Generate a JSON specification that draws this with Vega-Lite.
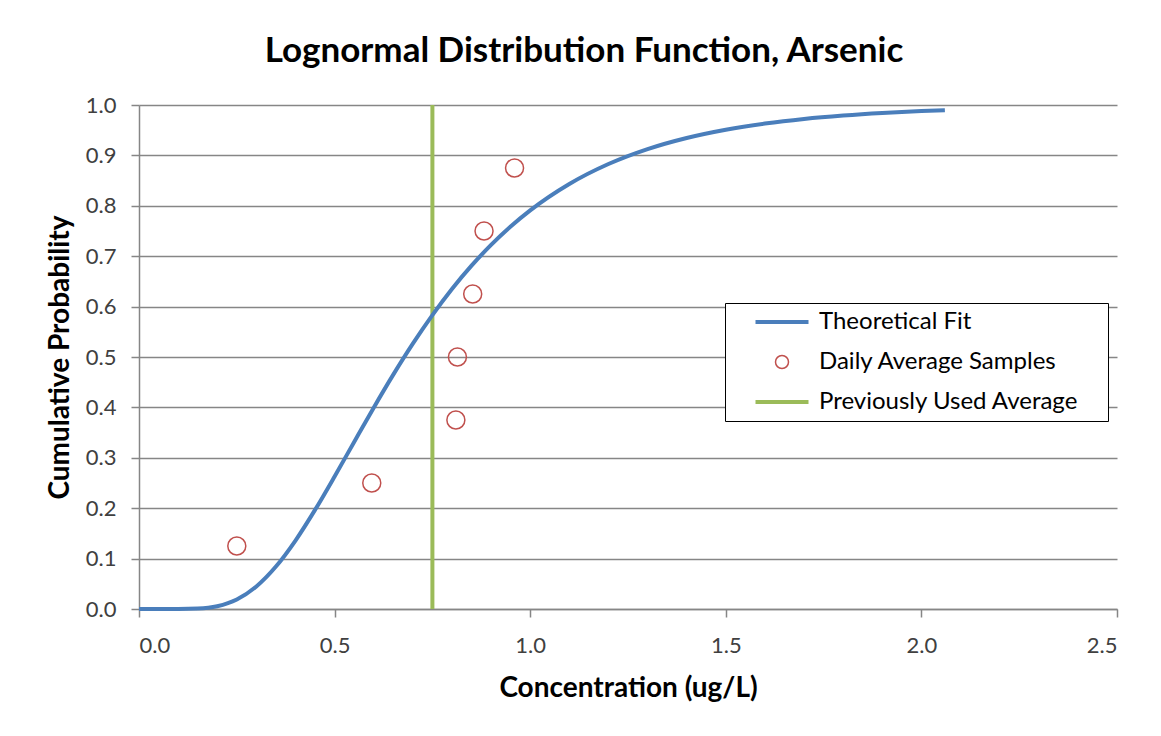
{
  "$schema": "https://vega.github.io/schema/vega-lite/v6.json",
  "width": 978,
  "height": 504,
  "autosize": "none",
  "padding": {"left": 139, "top": 105, "right": 44, "bottom": 127},
  "background": "white",
  "title": {
    "text": "Lognormal Distribution Function, Arsenic",
    "font": "Lato",
    "fontSize": 35,
    "fontWeight": "bold",
    "color": "#000000",
    "anchor": "middle",
    "dx": -44,
    "offset": 25
  },
  "config": {
    "view": {"stroke": null},
    "axis": {
      "labelFont": "Lato",
      "labelFontSize": 22,
      "labelColor": "#404040",
      "titleFont": "Lato",
      "titleFontSize": 28,
      "titleFontWeight": "bold",
      "titleColor": "#000000",
      "domainColor": "#868686",
      "domainWidth": 1.5,
      "tickColor": "#868686",
      "tickWidth": 1.5,
      "tickSize": 8,
      "gridColor": "#868686",
      "gridWidth": 1.3
    }
  },
  "data": {
    "values": [
      {"x": 0.0, "y": 0.0, "series": "Theoretical Fit"},
      {"x": 0.05, "y": 0.0, "series": "Theoretical Fit"},
      {"x": 0.1, "y": 0.00003, "series": "Theoretical Fit"},
      {"x": 0.15, "y": 0.00084, "series": "Theoretical Fit"},
      {"x": 0.2, "y": 0.0055, "series": "Theoretical Fit"},
      {"x": 0.25, "y": 0.0188, "series": "Theoretical Fit"},
      {"x": 0.3, "y": 0.0447, "series": "Theoretical Fit"},
      {"x": 0.35, "y": 0.0842, "series": "Theoretical Fit"},
      {"x": 0.4, "y": 0.1358, "series": "Theoretical Fit"},
      {"x": 0.45, "y": 0.1966, "series": "Theoretical Fit"},
      {"x": 0.5, "y": 0.2629, "series": "Theoretical Fit"},
      {"x": 0.55, "y": 0.3315, "series": "Theoretical Fit"},
      {"x": 0.6, "y": 0.3995, "series": "Theoretical Fit"},
      {"x": 0.65, "y": 0.465, "series": "Theoretical Fit"},
      {"x": 0.7, "y": 0.5265, "series": "Theoretical Fit"},
      {"x": 0.75, "y": 0.5832, "series": "Theoretical Fit"},
      {"x": 0.8, "y": 0.6349, "series": "Theoretical Fit"},
      {"x": 0.85, "y": 0.6812, "series": "Theoretical Fit"},
      {"x": 0.9, "y": 0.7224, "series": "Theoretical Fit"},
      {"x": 0.95, "y": 0.7589, "series": "Theoretical Fit"},
      {"x": 1.0, "y": 0.7909, "series": "Theoretical Fit"},
      {"x": 1.1, "y": 0.8433, "series": "Theoretical Fit"},
      {"x": 1.2, "y": 0.8829, "series": "Theoretical Fit"},
      {"x": 1.3, "y": 0.9125, "series": "Theoretical Fit"},
      {"x": 1.4, "y": 0.9346, "series": "Theoretical Fit"},
      {"x": 1.5, "y": 0.951, "series": "Theoretical Fit"},
      {"x": 1.6, "y": 0.9632, "series": "Theoretical Fit"},
      {"x": 1.7, "y": 0.9723, "series": "Theoretical Fit"},
      {"x": 1.8, "y": 0.979, "series": "Theoretical Fit"},
      {"x": 1.9, "y": 0.9841, "series": "Theoretical Fit"},
      {"x": 2.0, "y": 0.9879, "series": "Theoretical Fit"},
      {"x": 2.06, "y": 0.9897, "series": "Theoretical Fit"},
      {"x": 0.25, "y": 0.125, "series": "Daily Average Samples"},
      {"x": 0.595, "y": 0.25, "series": "Daily Average Samples"},
      {"x": 0.81, "y": 0.375, "series": "Daily Average Samples"},
      {"x": 0.814, "y": 0.5, "series": "Daily Average Samples"},
      {"x": 0.853, "y": 0.625, "series": "Daily Average Samples"},
      {"x": 0.882, "y": 0.75, "series": "Daily Average Samples"},
      {"x": 0.96, "y": 0.875, "series": "Daily Average Samples"},
      {"x": 0.75, "y": 0.0, "series": "Previously Used Average"},
      {"x": 0.75, "y": 1.0, "series": "Previously Used Average"}
    ]
  },
  "encoding": {
    "x": {
      "field": "x",
      "type": "quantitative",
      "scale": {"domain": [0, 2.5], "nice": false, "zero": false},
      "axis": {
        "title": "Concentration (ug/L)",
        "values": [0, 0.5, 1, 1.5, 2, 2.5],
        "format": ".1f",
        "grid": false,
        "labelPadding": 18,
        "titlePadding": 18
      }
    },
    "y": {
      "field": "y",
      "type": "quantitative",
      "scale": {"domain": [0, 1], "nice": false},
      "axis": {
        "title": "Cumulative Probability",
        "values": [0, 0.1, 0.2, 0.3, 0.4, 0.5, 0.6, 0.7, 0.8, 0.9, 1.0],
        "format": ".1f",
        "grid": true,
        "labelPadding": 15,
        "titlePadding": 11
      }
    },
    "color": {
      "field": "series",
      "type": "nominal",
      "scale": {
        "domain": ["Theoretical Fit", "Daily Average Samples", "Previously Used Average"],
        "range": ["#4A7EBB", "#C0504D", "#9BBB59"]
      },
      "legend": {
        "title": null,
        "orient": "none",
        "legendX": 586,
        "legendY": 198,
        "strokeColor": "#000000",
        "fillColor": "#ffffff",
        "padding": 6,
        "labelFont": "Lato",
        "labelFontSize": 24,
        "labelColor": "#000000",
        "labelLimit": 500,
        "labelOffset": 25,
        "symbolSize": 2809,
        "symbolOffset": 39,
        "rowPadding": 14,
        "clipHeight": 26,
        "encode": {
          "entries": {
            "update": {
              "width": {"value": 371}
            }
          },
          "symbols": {
            "update": {
              "shape": {"signal": "datum.value === 'Daily Average Samples' ? 'circle' : 'stroke'"},
              "size": {"signal": "datum.value === 'Daily Average Samples' ? 169 : 2809"},
              "strokeWidth": {"signal": "datum.value === 'Daily Average Samples' ? 1.5 : 4"},
              "fill": {"value": "transparent"}
            }
          }
        }
      }
    }
  },
  "layer": [
    {
      "transform": [{"filter": "datum.series === 'Previously Used Average'"}],
      "mark": {"type": "line", "strokeWidth": 4}
    },
    {
      "transform": [{"filter": "datum.series === 'Theoretical Fit'"}],
      "mark": {"type": "line", "strokeWidth": 4, "interpolate": "monotone"}
    },
    {
      "transform": [{"filter": "datum.series === 'Daily Average Samples'"}],
      "mark": {"type": "point", "shape": "circle", "filled": false, "size": 324, "strokeWidth": 1.5, "opacity": 1}
    }
  ]
}
